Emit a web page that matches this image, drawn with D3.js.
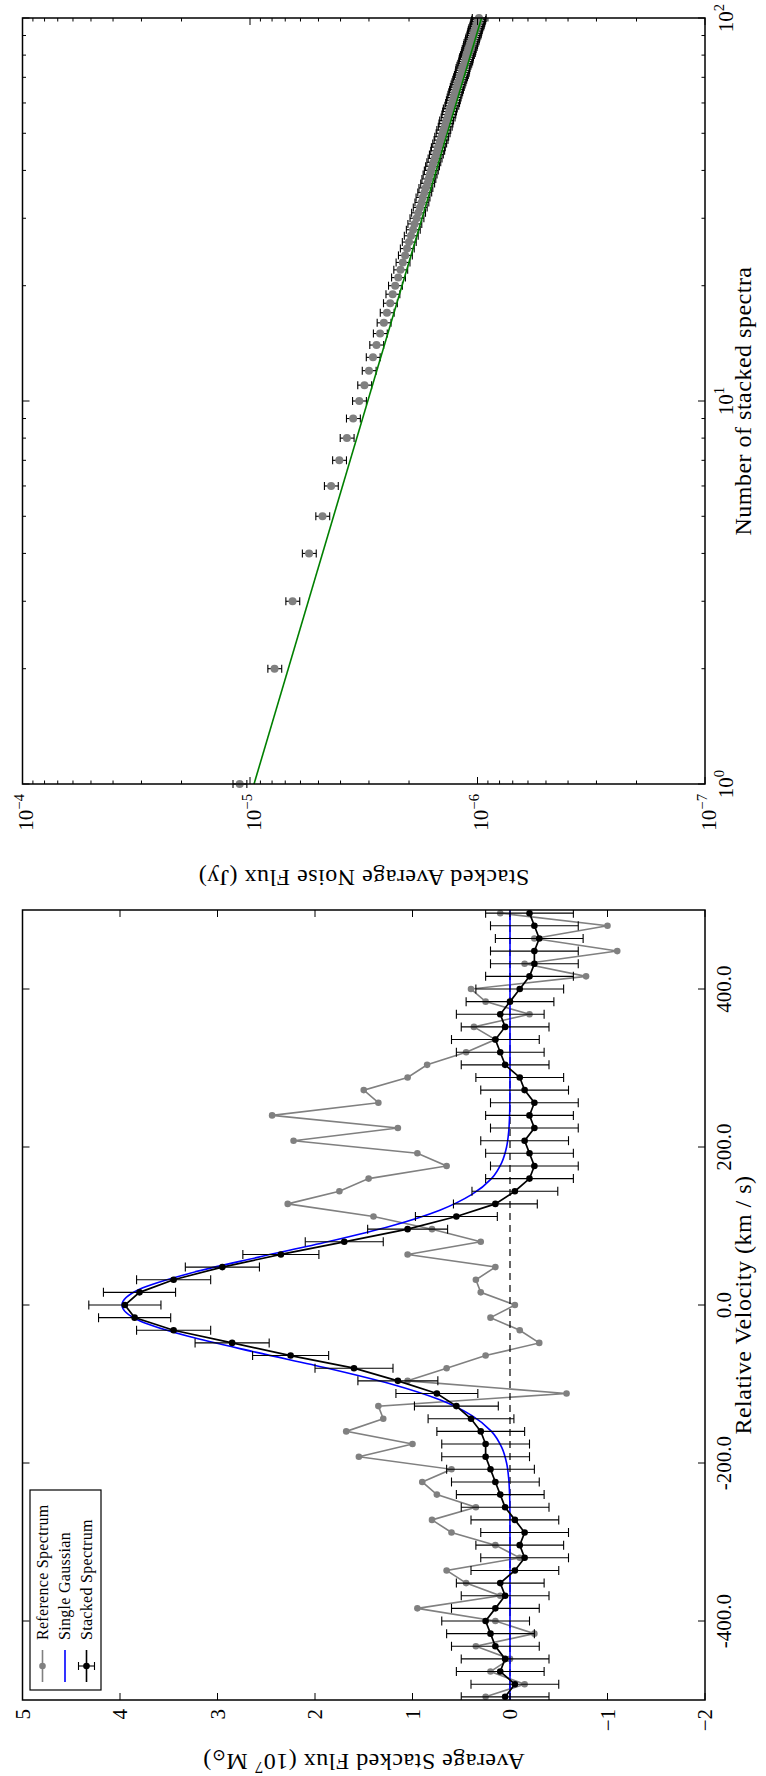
<!DOCTYPE html>
<html><head><meta charset="utf-8">
<script src="https://cdn.jsdelivr.net/npm/d3@7"></script>
<style>
body{margin:0;background:#fff}
svg{display:block}
text{font-family:"Liberation Serif","DejaVu Serif",serif;fill:#000}
</style>
</head><body>
<svg id="fig" width="766" height="1776"></svg>
<script>
// ---- stacked spectrum panel (16 km/s channels) ----
const velocity = [-496,-480,-464,-448,-432,-416,-400,-384,-368,-352,-336,-320,-304,-288,-272,-256,-240,-224,-208,-192,-176,-160,-144,-128,-112,-96,-80,-64,-48,-32,-16,0,16,32,48,64,80,96,112,128,144,160,176,192,208,224,240,256,272,288,304,320,336,352,368,384,400,416,432,448,464,480,496];
const stackedFlux = [0.05,-0.05,0.10,0.05,0.15,0.20,0.25,0.15,0.05,0.10,-0.05,-0.15,-0.10,-0.15,-0.05,0.05,0.10,0.15,0.20,0.25,0.25,0.30,0.40,0.55,0.75,1.15,1.60,2.25,2.85,3.45,3.85,3.95,3.80,3.45,2.95,2.35,1.70,1.05,0.55,0.15,-0.05,-0.20,-0.25,-0.20,-0.15,-0.25,-0.20,-0.25,-0.15,-0.10,0.05,0.10,0.15,0.05,0.10,0.00,-0.10,-0.20,-0.25,-0.25,-0.30,-0.25,-0.20];
const stackedErr = [0.45,0.45,0.45,0.45,0.45,0.45,0.45,0.45,0.45,0.45,0.45,0.45,0.45,0.45,0.45,0.45,0.45,0.45,0.45,0.45,0.45,0.45,0.44,0.43,0.42,0.41,0.40,0.39,0.38,0.38,0.37,0.37,0.37,0.38,0.38,0.39,0.40,0.41,0.42,0.43,0.44,0.45,0.45,0.45,0.45,0.45,0.45,0.45,0.45,0.45,0.45,0.45,0.45,0.45,0.45,0.45,0.45,0.45,0.45,0.45,0.45,0.45,0.45];
const referenceFlux = [0.25,-0.15,0.20,0.00,0.35,-0.25,0.15,0.95,0.10,0.45,0.65,-0.10,0.15,0.60,0.80,0.35,0.75,0.90,0.60,1.55,1.00,1.68,1.30,1.35,-0.58,1.05,0.65,0.25,-0.30,-0.10,0.20,-0.05,0.30,0.35,0.15,1.05,0.30,0.80,1.40,2.28,1.75,1.45,0.65,0.95,2.22,1.15,2.44,1.35,1.50,1.05,0.85,0.45,0.15,0.37,-0.20,0.25,0.40,-0.78,-0.15,-1.10,-0.25,-1.00,0.10];
const gaussianVelocity = [-500,-300,-260,-240,-220,-200,-180,-160,-140,-120,-100,-80,-60,-40,-20,0,20,40,60,80,100,120,140,160,180,200,220,240,260,300,500];
const gaussianFlux = [0,0,0.001,0.004,0.013,0.035,0.086,0.19,0.39,0.72,1.22,1.87,2.60,3.29,3.80,3.98,3.80,3.29,2.60,1.87,1.22,0.72,0.39,0.19,0.086,0.035,0.013,0.004,0.001,0,0];
const fluxTicks = [-2,-1,0,1,2,3,4,5];
const velocityTicks = [-400,-200,0,200,400];
const velocityTickLabels = ["-400.0","-200.0","0.0","200.0","400.0"];
const legendLabels = ["Reference Spectrum","Single Gaussian","Stacked Spectrum"];

// ---- noise panel ----
const nStacked = d3.range(1, 101);
const noiseFlux = [11.1,7.8,6.5,5.5,4.8,4.4,4.05,3.75,3.52,3.31,3.14,3.00,2.88,2.78,2.68,2.58,2.50,2.42,2.36,2.30,2.23,2.18,2.13,2.08,2.04,2.00,1.96,1.92,1.89,1.85,1.82,1.79,1.76,1.74,1.71,1.69,1.66,1.64,1.62,1.60,1.58,1.56,1.54,1.52,1.50,1.49,1.47,1.45,1.44,1.42,1.41,1.39,1.38,1.37,1.35,1.34,1.33,1.32,1.30,1.29,1.28,1.27,1.26,1.25,1.24,1.23,1.22,1.21,1.20,1.19,1.18,1.17,1.165,1.16,1.15,1.14,1.13,1.125,1.12,1.11,1.10,1.095,1.09,1.08,1.075,1.07,1.06,1.055,1.05,1.04,1.035,1.03,1.025,1.02,1.01,1.005,1.0,0.995,0.99,0.985].map(d => d * 1e-6);
const noiseErrFrac = 0.07;
const fitN = [1, 100];
const fitFlux = [9.6e-6, 9.6e-7];
const noiseTicks = [1e-7,1e-6,1e-5,1e-4];
const noiseTickExp = ["\u22127","\u22126","\u22125","\u22124"];
const nTicks = [1,10,100];
const nTickExp = ["0","1","2"];

// Figure is laid out landscape (W x H) and turned a quarter to fit the portrait page.
const W = 1776, H = 766;
const svg = d3.select("#fig");
const fig = svg.append("g").attr("transform", `translate(0,${W}) rotate(-90)`);
fig.append("rect").attr("width", W).attr("height", H).attr("fill", "#fff");

const TICK_FONT = 21, LABEL_FONT = 24, LABEL_SPACING = 0.5;
const plotTop = 22.5, plotBottom = 705;

function addSupText(g, x, y, base, exp, size, anchor) {
  const t = g.append("text").attr("x", x).attr("y", y).attr("font-size", size)
    .attr("text-anchor", anchor);
  t.append("tspan").text(base);
  if (exp !== null) t.append("tspan").attr("dy", -size * 0.42).attr("font-size", size * 0.7).text(exp);
  return t;
}

function drawTicks(g, x, y, xs, ys, xMinor, yMinor) {
  const x0 = x.range()[0], x1 = x.range()[1], y0 = y.range()[0], y1 = y.range()[1];
  const tk = g.append("g").attr("stroke", "#000").attr("stroke-width", 1);
  const maj = 7, mnr = 3.5;
  xs.forEach(v => {
    tk.append("line").attr("x1", x(v)).attr("x2", x(v)).attr("y1", y0).attr("y2", y0 - maj);
    tk.append("line").attr("x1", x(v)).attr("x2", x(v)).attr("y1", y1).attr("y2", y1 + maj);
  });
  xMinor.forEach(v => {
    tk.append("line").attr("x1", x(v)).attr("x2", x(v)).attr("y1", y0).attr("y2", y0 - mnr);
    tk.append("line").attr("x1", x(v)).attr("x2", x(v)).attr("y1", y1).attr("y2", y1 + mnr);
  });
  ys.forEach(v => {
    tk.append("line").attr("y1", y(v)).attr("y2", y(v)).attr("x1", x0).attr("x2", x0 + maj);
    tk.append("line").attr("y1", y(v)).attr("y2", y(v)).attr("x1", x1).attr("x2", x1 - maj);
  });
  yMinor.forEach(v => {
    tk.append("line").attr("y1", y(v)).attr("y2", y(v)).attr("x1", x0).attr("x2", x0 + mnr);
    tk.append("line").attr("y1", y(v)).attr("y2", y(v)).attr("x1", x1).attr("x2", x1 - mnr);
  });
}

function frame(g, x, y) {
  g.append("rect").attr("x", x.range()[0]).attr("y", y.range()[1])
    .attr("width", x.range()[1] - x.range()[0]).attr("height", y.range()[0] - y.range()[1])
    .attr("fill", "none").attr("stroke", "#000").attr("stroke-width", 1.5);
}

// ===== Left panel: average stacked flux vs velocity =====
const xV = d3.scaleLinear([-500, 500], [76, 866]);
const yF = d3.scaleLinear([-2, 5], [plotBottom, plotTop]);
const pL = fig.append("g");
pL.append("clipPath").attr("id", "clipL").append("rect")
  .attr("x", 76).attr("y", plotTop).attr("width", 790).attr("height", plotBottom - plotTop);
const plotL = pL.append("g").attr("clip-path", "url(#clipL)");

const line = d3.line();
// reference spectrum
plotL.append("path").attr("d", line(velocity.map((v, i) => [xV(v), yF(referenceFlux[i])])))
  .attr("fill", "none").attr("stroke", "#808080").attr("stroke-width", 1.6);
plotL.append("g").selectAll("circle").data(velocity).join("circle")
  .attr("cx", d => xV(d)).attr("cy", (d, i) => yF(referenceFlux[i])).attr("r", 3.3).attr("fill", "#808080");
// zero level
plotL.append("line").attr("x1", 76).attr("x2", 866).attr("y1", yF(0)).attr("y2", yF(0))
  .attr("stroke", "#000").attr("stroke-width", 1.2).attr("stroke-dasharray", "7,5");
// single gaussian
plotL.append("path").attr("d", d3.line().curve(d3.curveMonotoneX)(gaussianVelocity.map((v, i) => [xV(v), yF(gaussianFlux[i])])))
  .attr("fill", "none").attr("stroke", "#0000ff").attr("stroke-width", 1.6);
// stacked spectrum with error bars
const eb = plotL.append("g").attr("stroke", "#000").attr("stroke-width", 1.1);
velocity.forEach((v, i) => {
  const cx = xV(v), lo = yF(stackedFlux[i] - stackedErr[i]), hi = yF(stackedFlux[i] + stackedErr[i]);
  eb.append("line").attr("x1", cx).attr("x2", cx).attr("y1", lo).attr("y2", hi);
  eb.append("line").attr("x1", cx - 4.5).attr("x2", cx + 4.5).attr("y1", lo).attr("y2", lo);
  eb.append("line").attr("x1", cx - 4.5).attr("x2", cx + 4.5).attr("y1", hi).attr("y2", hi);
});
plotL.append("path").attr("d", line(velocity.map((v, i) => [xV(v), yF(stackedFlux[i])])))
  .attr("fill", "none").attr("stroke", "#000").attr("stroke-width", 1.7);
plotL.append("g").selectAll("circle").data(velocity).join("circle")
  .attr("cx", d => xV(d)).attr("cy", (d, i) => yF(stackedFlux[i])).attr("r", 3.3).attr("fill", "#000");

frame(pL, xV, yF);
drawTicks(pL, xV, yF, velocityTicks, fluxTicks, [], []);
velocityTicks.forEach((v, i) => {
  pL.append("text").attr("x", xV(v)).attr("y", plotBottom + 26).attr("font-size", TICK_FONT)
    .attr("text-anchor", "middle").text(velocityTickLabels[i]);
});
fluxTicks.forEach(v => {
  pL.append("text").attr("x", 67).attr("y", yF(v)).attr("dy", "0.34em").attr("font-size", TICK_FONT)
    .attr("text-anchor", "end").text(v < 0 ? "\u2212" + Math.abs(v) : String(v));
});
pL.append("text").attr("x", (76 + 866) / 2).attr("y", 751).attr("font-size", LABEL_FONT)
  .attr("letter-spacing", LABEL_SPACING).attr("text-anchor", "middle").text("Relative Velocity (km / s)");
{
  const t = pL.append("text").attr("transform", `translate(22,${(plotTop + plotBottom) / 2}) rotate(-90)`)
    .attr("font-size", LABEL_FONT).attr("letter-spacing", LABEL_SPACING).attr("text-anchor", "middle");
  t.append("tspan").text("Average Stacked Flux (10");
  t.append("tspan").attr("dy", -8).attr("font-size", LABEL_FONT * 0.7).text("7");
  t.append("tspan").attr("dy", 8).text(" M");
  t.append("tspan").attr("dy", 4).attr("font-size", LABEL_FONT * 0.7).text("\u2299");
  t.append("tspan").attr("dy", -4).text(")");
}

// legend
{
  const lg = pL.append("g").attr("transform", "translate(86,30)");
  lg.append("rect").attr("width", 200).attr("height", 71).attr("fill", "#fff").attr("stroke", "#000").attr("stroke-width", 1.2);
  const rows = [12.5, 35, 56.5];
  const hx0 = 8, hx1 = 40;
  lg.append("line").attr("x1", hx0).attr("x2", hx1).attr("y1", rows[0]).attr("y2", rows[0]).attr("stroke", "#808080").attr("stroke-width", 1.6);
  lg.append("circle").attr("cx", (hx0 + hx1) / 2).attr("cy", rows[0]).attr("r", 3.3).attr("fill", "#808080");
  lg.append("line").attr("x1", hx0).attr("x2", hx1).attr("y1", rows[1]).attr("y2", rows[1]).attr("stroke", "#0000ff").attr("stroke-width", 1.6);
  const cx = (hx0 + hx1) / 2;
  lg.append("line").attr("x1", hx0).attr("x2", hx1).attr("y1", rows[2]).attr("y2", rows[2]).attr("stroke", "#000").attr("stroke-width", 1.6);
  lg.append("line").attr("x1", cx).attr("x2", cx).attr("y1", rows[2] - 8).attr("y2", rows[2] + 8).attr("stroke", "#000").attr("stroke-width", 1.1);
  lg.append("line").attr("x1", cx - 4).attr("x2", cx + 4).attr("y1", rows[2] - 8).attr("y2", rows[2] - 8).attr("stroke", "#000").attr("stroke-width", 1.1);
  lg.append("line").attr("x1", cx - 4).attr("x2", cx + 4).attr("y1", rows[2] + 8).attr("y2", rows[2] + 8).attr("stroke", "#000").attr("stroke-width", 1.1);
  lg.append("circle").attr("cx", cx).attr("cy", rows[2]).attr("r", 3.3).attr("fill", "#000");
  legendLabels.forEach((s, i) => {
    lg.append("text").attr("x", 50).attr("y", rows[i]).attr("dy", "0.34em").attr("font-size", 16)
      .attr("letter-spacing", 0.3).text(s);
  });
}

// ===== Right panel: noise vs number of stacked spectra =====
const xN = d3.scaleLog([1, 100], [992, 1758]);
const yN = d3.scaleLog([1e-7, 1e-4], [plotBottom, plotTop]);
const pR = fig.append("g");
const ebR = pR.append("g").attr("stroke", "#000").attr("stroke-width", 1.1);
nStacked.forEach((n, i) => {
  const cx = xN(n), v = noiseFlux[i];
  const lo = yN(v * (1 - noiseErrFrac)), hi = yN(v * (1 + noiseErrFrac));
  ebR.append("line").attr("x1", cx).attr("x2", cx).attr("y1", lo).attr("y2", hi);
  ebR.append("line").attr("x1", cx - 4).attr("x2", cx + 4).attr("y1", lo).attr("y2", lo);
  ebR.append("line").attr("x1", cx - 4).attr("x2", cx + 4).attr("y1", hi).attr("y2", hi);
});
pR.append("g").selectAll("circle").data(nStacked).join("circle")
  .attr("cx", d => xN(d)).attr("cy", (d, i) => yN(noiseFlux[i])).attr("r", 4).attr("fill", "#808080");
pR.append("path").attr("d", line(fitN.map((n, i) => [xN(n), yN(fitFlux[i])])))
  .attr("fill", "none").attr("stroke", "#008000").attr("stroke-width", 1.6);

frame(pR, xN, yN);
const nMinor = [2,3,4,5,6,7,8,9,20,30,40,50,60,70,80,90];
const yMinorN = [];
[1e-7,1e-6,1e-5].forEach(d => { for (let k = 2; k <= 9; k++) yMinorN.push(d * k); });
drawTicks(pR, xN, yN, nTicks, noiseTicks, nMinor, yMinorN);
nTicks.forEach((v, i) => addSupText(pR, xN(v), plotBottom + 28, "10", nTickExp[i], TICK_FONT, "middle"));
noiseTicks.forEach((v, i) => {
  addSupText(pR, 982, yN(v), "10", noiseTickExp[i], TICK_FONT, "end").attr("dy", "0.5em");
});
pR.append("text").attr("x", (992 + 1758) / 2).attr("y", 751).attr("font-size", LABEL_FONT)
  .attr("letter-spacing", LABEL_SPACING).attr("text-anchor", "middle").text("Number of stacked spectra");
pR.append("text").attr("transform", `translate(906,${(plotTop + plotBottom) / 2}) rotate(-90)`)
  .attr("font-size", LABEL_FONT).attr("letter-spacing", LABEL_SPACING).attr("text-anchor", "middle")
  .text("Stacked Average Noise Flux (Jy)");
</script>
</body></html>
